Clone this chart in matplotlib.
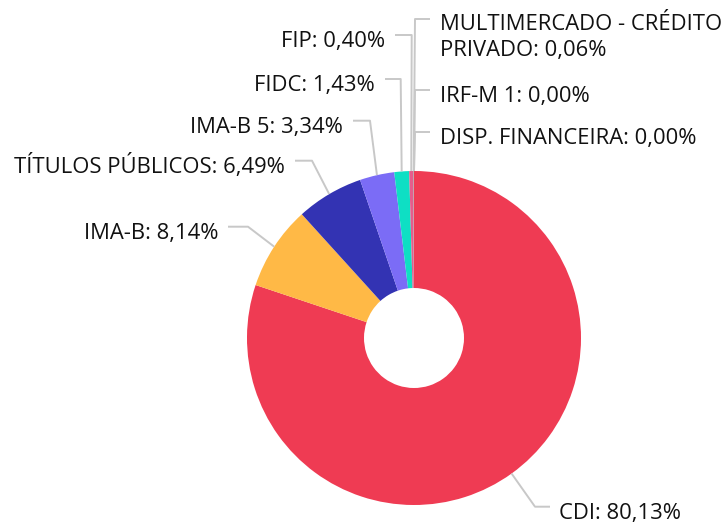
import matplotlib
matplotlib.use("Agg")
import matplotlib.pyplot as plt
import numpy as np

W, H = 722, 523

categories = ["CDI", "IMA-B", "TÍTULOS PÚBLICOS", "IMA-B 5", "FIDC", "FIP",
              "MULTIMERCADO - CRÉDITO PRIVADO", "IRF-M 1", "DISP. FINANCEIRA"]
values = [80.13, 8.14, 6.49, 3.34, 1.43, 0.40, 0.06, 0.00, 0.00]
label_texts = ["CDI: 80,13%", "IMA-B: 8,14%", "TÍTULOS PÚBLICOS: 6,49%", "IMA-B 5: 3,34%",
               "FIDC: 1,43%", "FIP: 0,40%", "MULTIMERCADO - CRÉDITO\nPRIVADO: 0,06%",
               "IRF-M 1: 0,00%", "DISP. FINANCEIRA: 0,00%"]
colors = ["#EF3B53", "#FFB946", "#3333B3", "#7B6CF6", "#0EDFC4", "#E65C8C",
          "#9A9A9A", "#BBBBBB", "#BBBBBB"]

# layout (pixels): side, leader y, elbow x, line end x
layout = [
    ("right", 506.7, 535, 550),
    ("left", 226.7, 248, 228),
    ("left", 160.7, 312, 295),
    ("left", 120.7, 370, 353),
    ("left", 79.0, 400.7, 385),
    ("left", 35.0, 411.7, 395),
    ("right", 19.0, 415, 430),
    ("right", 90.0, 415, 430),
    ("right", 132.0, 415, 430),
]

cx, cy, R, r_in = 414, 338, 167, 50
FONT = "Open Sans"
FS = 15.8
TXT = "#111111"
LINE = "#c8c8c8"

fig = plt.figure(figsize=(W / 100, H / 100), dpi=100)
ax = fig.add_axes([0, 0, 1, 1])
ax.set_xlim(0, W)
ax.set_ylim(H, 0)
ax.set_aspect("equal")
ax.axis("off")

plot_vals = [v if v > 0 else 1e-9 for v in values]
wedges, _ = ax.pie(plot_vals, colors=colors, startangle=-90, counterclock=True,
                   center=(cx, cy), radius=R, normalize=True,
                   wedgeprops=dict(width=R - r_in, linewidth=0))
ax.set_xlim(0, W)
ax.set_ylim(H, 0)

for w, txt, (side, ly, ex, endx) in zip(wedges, label_texts, layout):
    mid = np.deg2rad((w.theta1 + w.theta2) / 2)
    px = cx + R * np.cos(mid)
    py = cy + R * np.sin(mid)
    ax.plot([px, ex, endx], [py, ly, ly], color=LINE, lw=1.4, solid_capstyle="butt", zorder=1)
    if side == "right":
        tx, ha = endx + 9 if endx > 500 else endx + 10, "left"
    else:
        tx, ha = endx - 10, "right"
    lines = txt.split("\n")
    base = ly + 11.8 if len(lines) == 1 else ly + 11
    for i, t in enumerate(lines):
        ax.text(tx, base + 26 * i, t, ha=ha, va="baseline", fontsize=FS,
                family=FONT, color=TXT, clip_on=False)

fig.savefig("out.png", dpi=100)
